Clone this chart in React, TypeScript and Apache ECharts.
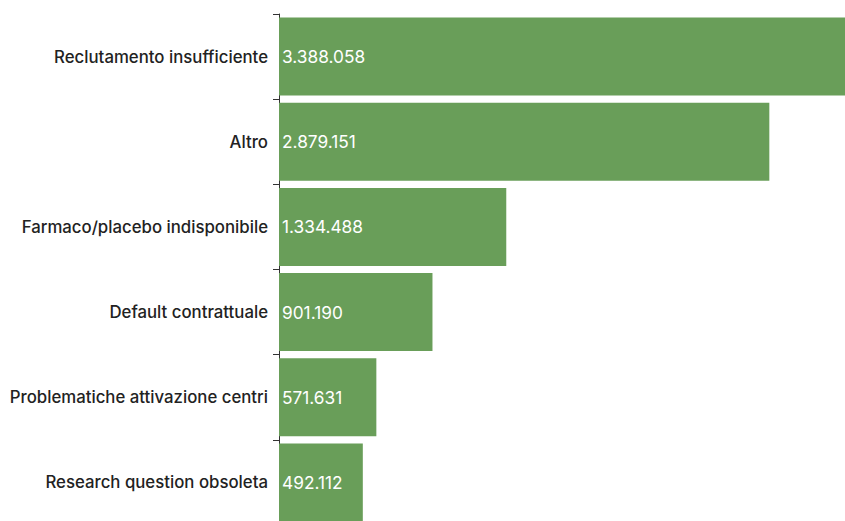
import React, { useEffect, useRef } from "react";
import * as echarts from "echarts";

const categories = [
  "Reclutamento insufficiente",
  "Altro",
  "Farmaco/placebo indisponibile",
  "Default contrattuale",
  "Problematiche attivazione centri",
  "Research question obsoleta",
];
const values = [3388058, 2879151, 1334488, 901190, 571631, 492112];

const fmt = (v: number) => v.toString().replace(/\B(?=(\d{3})+(?!\d))/g, ".");

export default function App() {
  const ref = useRef<HTMLDivElement>(null);
  useEffect(() => {
    if (!ref.current) return;
    const chart = echarts.init(ref.current, null, { renderer: "svg" });
    chart.setOption({
      animation: false,
      grid: { left: 279, right: 1, top: 14, bottom: 1, containLabel: false },
      xAxis: {
        type: "value",
        min: 0,
        max: 3388058,
        show: false,
      },
      yAxis: {
        type: "category",
        data: categories,
        inverse: true,
        axisLine: { show: true, lineStyle: { color: "#333", width: 1 } },
        axisTick: { show: true, length: 6, lineStyle: { color: "#333" } },
        axisLabel: {
          margin: 11,
          color: "#222",
          fontSize: 16.8,
          fontWeight: 500,
          fontFamily: "Inter",
        },
        splitLine: { show: false },
      },
      series: [
        {
          type: "bar",
          data: values,
          barCategoryGap: "8.5%",
          itemStyle: { color: "#699e59" },
          label: {
            show: true,
            position: "insideLeft",
            distance: 3,
            color: "#fff",
            fontSize: 17.3,
            fontFamily: "Inter",
            formatter: (p: any) => fmt(p.value),
          },
        },
      ],
    });
    return () => chart.dispose();
  }, []);
  return (
    <div
      ref={ref}
      style={{ position: "absolute", left: 0, top: 0, width: 857, height: 526 }}
    />
  );
}
